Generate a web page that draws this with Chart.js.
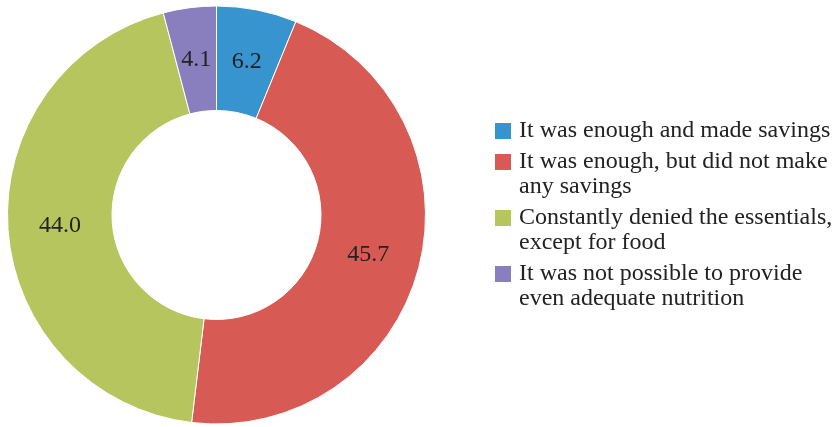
<!DOCTYPE html>
<html>
<head>
<meta charset="utf-8">
<script src="https://cdn.jsdelivr.net/npm/chart.js@4.4.1/dist/chart.umd.min.js"></script>
<style>
  html, body { margin: 0; padding: 0; background: #fff; overflow: hidden; }
  #wrap { position: relative; width: 840px; height: 427px; }
  #legend {
    position: absolute; left: 495px; top: 117px;
    font-family: "Liberation Serif", "Times New Roman", serif;
    font-size: 24px; color: #222; line-height: 25.5px;
  }
  .item { position: relative; padding-left: 24px; margin-bottom: 5px; white-space: nowrap; }
  .box { position: absolute; left: 0; top: 6px; width: 16px; height: 16px; }
</style>
</head>
<body>
<div id="wrap">
  <canvas id="chart" width="840" height="427"></canvas>
  <div id="legend"></div>
</div>
<script>
/* Dados do gráfico */
const categories = [
  "It was enough and made savings",
  "It was enough, but did not make any savings",
  "Constantly denied the essentials, except for food",
  "It was not possible to provide even adequate nutrition"
];
// Quebras de linha da legenda, como na figura
const legendLines = [
  ["It was enough and made savings"],
  ["It was enough, but did not make", "any savings"],
  ["Constantly denied the essentials,", "except for food"],
  ["It was not possible to provide", "even adequate nutrition"]
];
const values = [6.2, 45.7, 44.0, 4.1];
const colors = ["#3794cf", "#d85a55", "#b6c55d", "#8a7fbe"];

/* Plugin que escreve o valor no meio de cada fatia */
const valueLabels = {
  id: "valueLabels",
  afterDatasetsDraw(chart) {
    const ctx = chart.ctx;
    const meta = chart.getDatasetMeta(0);
    ctx.save();
    ctx.font = '24px "Liberation Serif", "Times New Roman", serif';
    ctx.fillStyle = "#222";
    ctx.textAlign = "center";
    ctx.textBaseline = "middle";
    meta.data.forEach((arc, i) => {
      const p = arc.tooltipPosition();
      ctx.fillText(values[i].toFixed(1), p.x, p.y);
    });
    ctx.restore();
  }
};

new Chart(document.getElementById("chart").getContext("2d"), {
  type: "doughnut",
  data: {
    labels: categories,
    datasets: [{
      data: values,
      backgroundColor: colors,
      borderColor: "#ffffff",
      borderWidth: 1
    }]
  },
  options: {
    responsive: false,
    animation: false,
    cutout: "50%",
    layout: { padding: { left: 7, right: 414, top: 5, bottom: 2 } },
    plugins: { legend: { display: false }, tooltip: { enabled: false } }
  },
  plugins: [valueLabels]
});

/* Legenda em HTML */
const legend = document.getElementById("legend");
legendLines.forEach((lines, i) => {
  const item = document.createElement("div");
  item.className = "item";
  const box = document.createElement("span");
  box.className = "box";
  box.style.background = colors[i];
  item.appendChild(box);
  lines.forEach((t, j) => {
    if (j > 0) item.appendChild(document.createElement("br"));
    item.appendChild(document.createTextNode(t));
  });
  legend.appendChild(item);
});
</script>
</body>
</html>
